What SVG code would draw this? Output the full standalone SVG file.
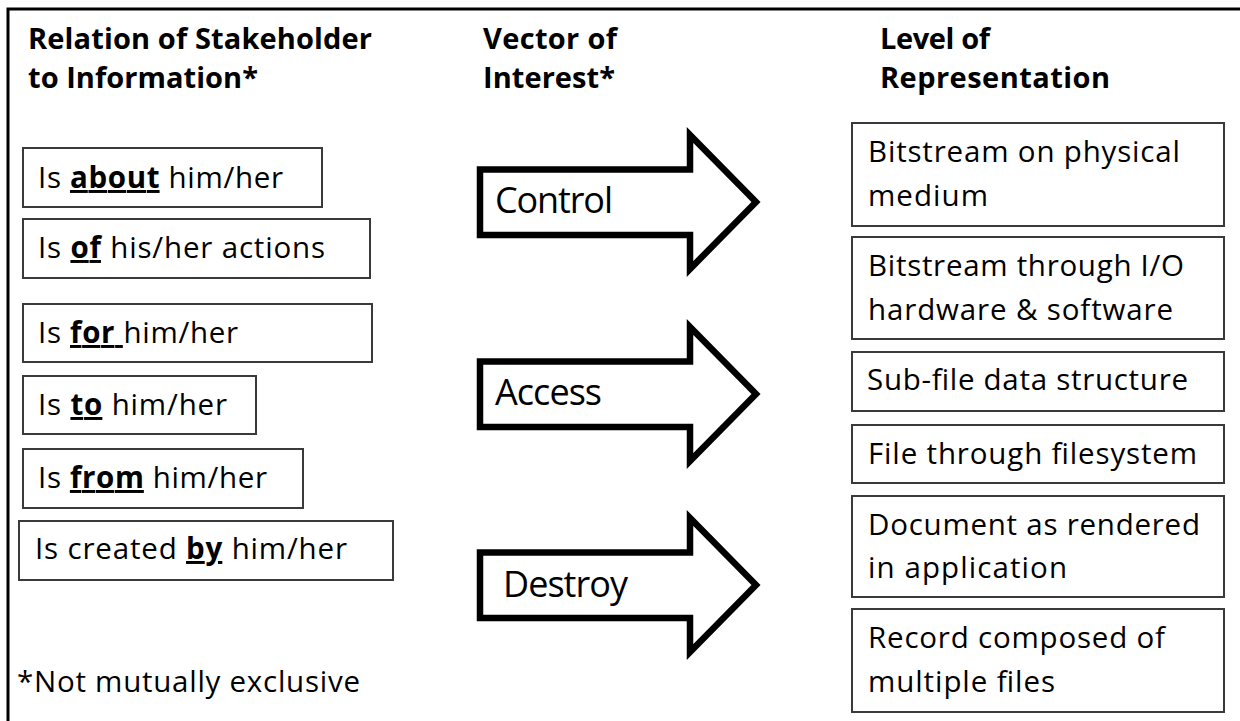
<svg xmlns="http://www.w3.org/2000/svg" width="1240" height="721" viewBox="0 0 1240 721">
<style>
text{font-family:"Open Sans","Liberation Sans",Arial,sans-serif;fill:#000}
.h{font-size:29px;font-weight:bold}
.t{font-size:29.5px}
.a{font-size:36px}
.b{font-weight:bold;text-decoration:underline}
.box{fill:#fff;stroke:#3a3a3a;stroke-width:2}
.arr{fill:#fff;stroke:#000;stroke-width:6.5;stroke-linejoin:miter;stroke-miterlimit:10}
</style>
<rect width="1240" height="721" fill="#fff"/>
<path d="M8,721 V9 H1240" fill="none" stroke="#000" stroke-width="3"/>
<g id="headers">
<text class="h" x="28" y="49" textLength="344" lengthAdjust="spacing">Relation of Stakeholder</text>
<text class="h" x="28" y="88" textLength="230" lengthAdjust="spacing">to Information*</text>
<text class="h" x="483" y="49" textLength="134" lengthAdjust="spacing">Vector of</text>
<text class="h" x="483" y="88" textLength="132" lengthAdjust="spacing">Interest*</text>
<text class="h" x="880" y="49" textLength="110" lengthAdjust="spacing">Level of</text>
<text class="h" x="880" y="88" textLength="230" lengthAdjust="spacing">Representation</text>
</g>
<g id="rel-about"><rect class="box" x="23" y="148" width="299" height="59"/><text class="t" x="38" y="188" textLength="245" lengthAdjust="spacing">Is <tspan class="b">about</tspan> him/her</text></g>
<g id="rel-of"><rect class="box" x="23" y="219" width="347" height="59"/><text class="t" x="38" y="258" textLength="287" lengthAdjust="spacing">Is <tspan class="b">of</tspan> his/her actions</text></g>
<g id="rel-for"><rect class="box" x="23" y="304" width="349" height="58"/><text class="t" x="38" y="343" textLength="200" lengthAdjust="spacing">Is <tspan class="b">for </tspan>him/her</text></g>
<g id="rel-to"><rect class="box" x="23" y="376" width="233" height="58"/><text class="t" x="38" y="415" textLength="189" lengthAdjust="spacing">Is <tspan class="b">to</tspan> him/her</text></g>
<g id="rel-from"><rect class="box" x="23" y="449" width="280" height="59"/><text class="t" x="38" y="488" textLength="229" lengthAdjust="spacing">Is <tspan class="b">from</tspan> him/her</text></g>
<g id="rel-by"><rect class="box" x="19" y="521" width="374" height="59"/><text class="t" x="35" y="559" textLength="312" lengthAdjust="spacing">Is created <tspan class="b">by</tspan> him/her</text></g>
<g id="footnote"><text class="t" x="17" y="692" textLength="343" lengthAdjust="spacing">*Not mutually exclusive</text></g>
<g id="connectors">
<g id="arrow-control"><path class="arr" d="M480,169.5 H690 V135 L756,202 L690,269 V235 H480 Z"/><text class="a" x="495" y="213" textLength="118" lengthAdjust="spacing">Control</text></g>
<g id="arrow-access"><path class="arr" d="M480,361.5 H690 V327 L756,394 L690,461 V427 H480 Z"/><text class="a" x="495" y="405" textLength="107" lengthAdjust="spacing">Access</text></g>
<g id="arrow-destroy"><path class="arr" d="M480,552.5 H690 V518 L756,585 L690,652 V618 H480 Z"/><text class="a" x="503" y="597" textLength="125" lengthAdjust="spacing">Destroy</text></g>
</g>
<g id="lvl-physical"><rect class="box" x="852" y="123" width="372" height="103"/><text class="t" x="868" y="162" textLength="312" lengthAdjust="spacing">Bitstream on physical</text><text class="t" x="868" y="206" textLength="120" lengthAdjust="spacing">medium</text></g>
<g id="lvl-io"><rect class="box" x="852" y="237" width="372" height="102"/><text class="t" x="868" y="276" textLength="316" lengthAdjust="spacing">Bitstream through I/O</text><text class="t" x="868" y="320" textLength="305" lengthAdjust="spacing">hardware &amp; software</text></g>
<g id="lvl-subfile"><rect class="box" x="852" y="352" width="372" height="59"/><text class="t" x="867" y="390" textLength="321" lengthAdjust="spacing">Sub-file data structure</text></g>
<g id="lvl-file"><rect class="box" x="852" y="425" width="372" height="58"/><text class="t" x="868" y="464" textLength="329" lengthAdjust="spacing">File through filesystem</text></g>
<g id="lvl-document"><rect class="box" x="852" y="496" width="372" height="101"/><text class="t" x="868" y="535" textLength="332" lengthAdjust="spacing">Document as rendered</text><text class="t" x="868" y="578" textLength="199" lengthAdjust="spacing">in application</text></g>
<g id="lvl-record"><rect class="box" x="852" y="609" width="372" height="103"/><text class="t" x="868" y="648" textLength="297" lengthAdjust="spacing">Record composed of</text><text class="t" x="868" y="692" textLength="187" lengthAdjust="spacing">multiple files</text></g>
</svg>
